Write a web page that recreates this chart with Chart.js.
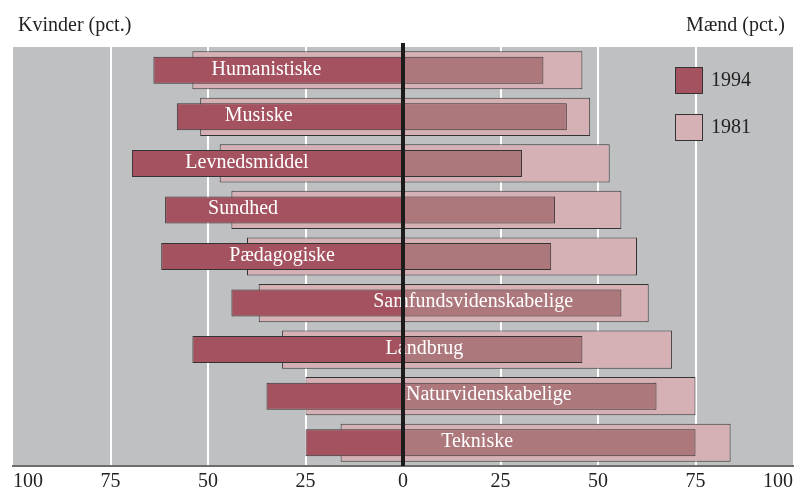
<!DOCTYPE html>
<html>
<head>
<meta charset="utf-8">
<script src="https://cdn.jsdelivr.net/npm/chart.js@4/dist/chart.umd.min.js"></script>
<style>
  html, body { margin: 0; padding: 0; background: #fff; }
  #wrap { width: 800px; height: 489px; position: relative; }
</style>
</head>
<body>
<div id="wrap"><canvas id="chart"></canvas></div>
<script>
// data (women left, men right, in pct.)
const categories = ["Humanistiske", "Musiske", "Levnedsmiddel", "Sundhed", "Pædagogiske",
  "Samfundsvidenskabelige", "Landbrug", "Naturvidenskabelige", "Tekniske"];
const women1994 = [64, 58, 69.5, 61, 62, 44, 54, 35, 25];
const men1994 = [36, 42, 30.5, 39, 38, 56, 46, 65, 75];
const women1981 = [54, 52, 47, 44, 40, 37, 31, 25, 16];
const men1981 = [46, 48, 53, 56, 60, 63, 69, 75, 84];
const years = ["1994", "1981"];
const xTicks = [-100, -75, -50, -25, 0, 25, 50, 75, 100];

const FONT = "'Liberation Serif', 'Times New Roman', serif";
const DARK = "#a4525f";
const MAUVE = "#ad787c";
const PINK = "#d5b1b5";
const EDGE = "#333333";

// where the white category name sits, in axis units
const labelAt = [-35, -37, -40, -41, -31, 18, 5.5, 22, 19];

const bgPlugin = {
  id: "bg",
  beforeDraw(chart) {
    const { ctx, chartArea: a } = chart;
    ctx.save();
    ctx.fillStyle = "#bfc0c2";
    ctx.fillRect(a.left, a.top, a.right - a.left, a.bottom - a.top);
    ctx.restore();
  },
  afterDatasetsDraw(chart) {
    const { ctx, chartArea: a } = chart;
    const x = chart.scales.x;
    const y = chart.scales.y;
    ctx.save();
    // category names
    ctx.fillStyle = "#fff";
    ctx.font = "20px " + FONT;
    ctx.textAlign = "center";
    ctx.textBaseline = "middle";
    categories.forEach((c, i) => {
      ctx.fillText(c, x.getPixelForValue(labelAt[i]), y.getPixelForValue(i) - 1);
    });
    // zero line
    const x0 = x.getPixelForValue(0);
    ctx.strokeStyle = "#1c1c1c";
    ctx.lineWidth = 4;
    ctx.beginPath();
    ctx.moveTo(x0, a.top - 4);
    ctx.lineTo(x0, a.bottom);
    ctx.stroke();
    ctx.restore();
  },
  afterDraw(chart) {
    const { ctx } = chart;
    ctx.save();
    ctx.fillStyle = "#222";
    ctx.font = "20px " + FONT;
    ctx.textBaseline = "alphabetic";
    ctx.textAlign = "left";
    ctx.fillText("Kvinder (pct.)", 18, 31);
    ctx.textAlign = "right";
    ctx.fillText("Mænd (pct.)", 785, 31);
    // legend
    const colors = [DARK, PINK];
    years.forEach((yr, i) => {
      const top = 67 + i * 47;
      ctx.fillStyle = colors[i];
      ctx.fillRect(675, top, 28, 27);
      ctx.strokeStyle = EDGE;
      ctx.lineWidth = 1;
      ctx.strokeRect(675.5, top + 0.5, 27, 26);
      ctx.fillStyle = "#222";
      ctx.textAlign = "left";
      ctx.textBaseline = "middle";
      ctx.fillText(yr, 711, top + 14);
    });
    ctx.restore();
  }
};

const common = { borderColor: EDGE, borderWidth: 1, grouped: false, categoryPercentage: 1 };

new Chart(document.getElementById("chart"), {
  type: "bar",
  data: {
    labels: categories,
    datasets: [
      { ...common, label: "1994 kvinder", data: women1994.map(v => -v), backgroundColor: DARK, barPercentage: 0.58 },
      { ...common, label: "1994 mænd", data: men1994, backgroundColor: MAUVE, barPercentage: 0.58 },
      { ...common, label: "1981 kvinder", data: women1981.map(v => -v), backgroundColor: PINK, barPercentage: 0.82 },
      { ...common, label: "1981 mænd", data: men1981, backgroundColor: PINK, barPercentage: 0.82 },
    ],
  },
  options: {
    indexAxis: "y",
    responsive: true,
    maintainAspectRatio: false,
    animation: false,
    layout: { padding: { left: 13, right: 7, top: 47, bottom: 0 } },
    scales: {
      x: {
        min: -100,
        max: 100,
        afterBuildTicks: (s) => { s.ticks = xTicks.map(v => ({ value: v })); },
        afterFit: (s) => { s.height = 23; },
        grid: {
          color: (c) => (Math.abs(c.tick.value) === 100 || c.tick.value === 0 ? "rgba(0,0,0,0)" : "#ffffff"),
          lineWidth: 2,
          drawTicks: false,
        },
        border: { color: "#6e6e6e", width: 2 },
        ticks: {
          align: "inner",
          padding: 4,
          color: "#222",
          font: { family: FONT, size: 20 },
          callback: (v) => Math.abs(v),
        },
      },
      y: { display: false },
    },
    plugins: {
      legend: { display: false },
      tooltip: { enabled: false },
    },
  },
  plugins: [bgPlugin],
});
</script>
</body>
</html>
